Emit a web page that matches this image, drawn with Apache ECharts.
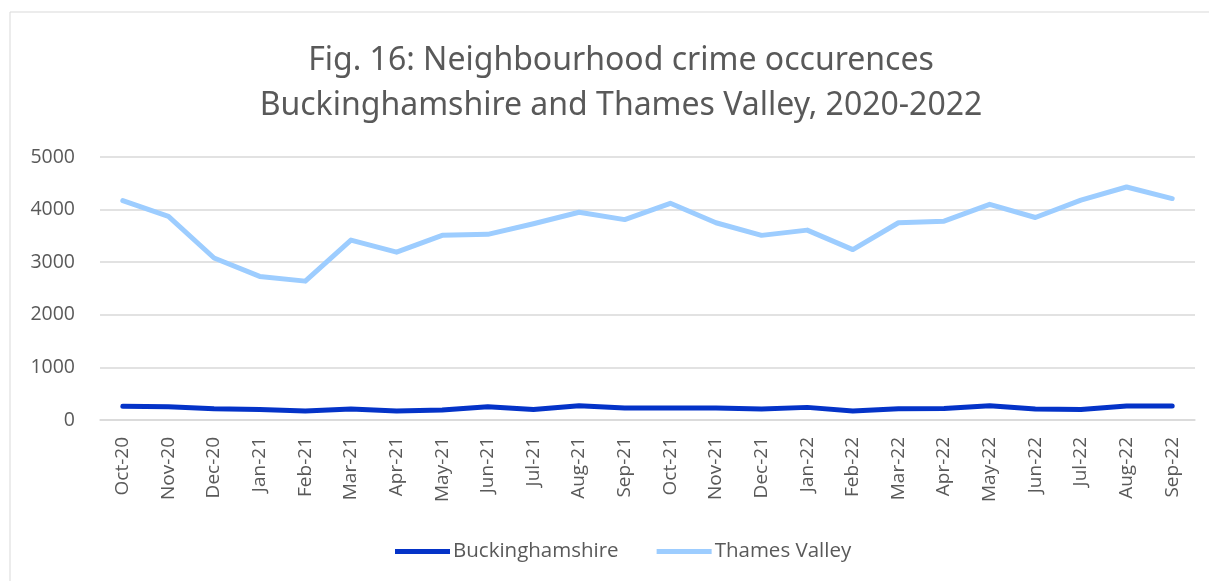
<!DOCTYPE html>
<html>
<head>
<meta charset="utf-8">
<script src="https://cdn.jsdelivr.net/npm/echarts@6/dist/echarts.min.js"></script>
<style>
  html, body { margin: 0; padding: 0; background: #ffffff; }
  #chart { width: 1209px; height: 581px; }
</style>
</head>
<body>
<div id="chart"></div>
<script>
// Monthly neighbourhood crime occurrences, Oct 2020 – Sep 2022
const months = [
  'Oct-20', 'Nov-20', 'Dec-20', 'Jan-21', 'Feb-21', 'Mar-21', 'Apr-21', 'May-21',
  'Jun-21', 'Jul-21', 'Aug-21', 'Sep-21', 'Oct-21', 'Nov-21', 'Dec-21', 'Jan-22',
  'Feb-22', 'Mar-22', 'Apr-22', 'May-22', 'Jun-22', 'Jul-22', 'Aug-22', 'Sep-22'
];
const buckinghamshire = [
  260, 250, 215, 200, 170, 210, 170, 190, 250, 200, 270, 230,
  230, 230, 210, 240, 170, 215, 220, 270, 210, 200, 265, 265
];
const thamesValley = [
  4170, 3870, 3080, 2730, 2640, 3420, 3190, 3510, 3530, 3730, 3950, 3810,
  4120, 3750, 3510, 3610, 3240, 3750, 3780, 4100, 3850, 4180, 4430, 4210
];
const yTicks = { min: 0, max: 5000, step: 1000 };

const textGrey = '#595959';
const chart = echarts.init(document.getElementById('chart'), null, { renderer: 'canvas' });

chart.setOption({
  backgroundColor: '#ffffff',
  animation: false,
  graphic: [{
    type: 'rect',
    shape: { x: 10, y: 12, width: 1260, height: 640 },
    style: { fill: 'none', stroke: '#d9d9d9', lineWidth: 1 },
    silent: true
  }],
  title: {
    text: 'Fig. 16: Neighbourhood crime occurences\nBuckinghamshire and Thames Valley, 2020-2022',
    left: 616,
    textAlign: 'center',
    top: 33,
    textStyle: {
      fontFamily: '"Noto Sans", sans-serif',
      fontSize: 32,
      fontWeight: 'normal',
      color: textGrey,
      lineHeight: 45
    }
  },
  legend: {
    bottom: 14,
    left: 390,
    icon: 'rect',
    itemWidth: 55,
    itemHeight: 5,
    itemGap: 38,
    textStyle: {
      fontFamily: '"Open Sans", sans-serif',
      fontSize: 20.5,
      color: textGrey,
      padding: [0, 0, 0, -2]
    },
    data: ['Buckinghamshire', 'Thames Valley']
  },
  grid: { left: 100, right: 14, top: 157, bottom: 161, containLabel: false },
  xAxis: {
    type: 'category',
    data: months,
    boundaryGap: true,
    axisLine: { show: true, lineStyle: { color: '#d9d9d9', width: 1.5 } },
    axisTick: { show: false },
    axisLabel: {
      rotate: 90,
      margin: 17,
      fontFamily: '"Open Sans", sans-serif',
      fontSize: 19,
      color: textGrey
    }
  },
  yAxis: {
    type: 'value',
    min: yTicks.min,
    max: yTicks.max,
    interval: yTicks.step,
    axisLine: { show: false },
    axisTick: { show: false },
    splitLine: { lineStyle: { color: '#d9d9d9', width: 1.5 } },
    axisLabel: {
      margin: 25,
      formatter: (v) => String(v),
      fontFamily: '"Open Sans", sans-serif',
      fontSize: 19.5,
      color: textGrey
    }
  },
  series: [
    {
      name: 'Buckinghamshire',
      type: 'line',
      data: buckinghamshire,
      symbol: 'none',
      color: '#0433c8',
      lineStyle: { width: 5, color: '#0433c8', cap: 'round', join: 'round' }
    },
    {
      name: 'Thames Valley',
      type: 'line',
      data: thamesValley,
      symbol: 'none',
      color: '#9dcdff',
      lineStyle: { width: 5, color: '#9dcdff', cap: 'round', join: 'round' }
    }
  ]
});
</script>
</body>
</html>
